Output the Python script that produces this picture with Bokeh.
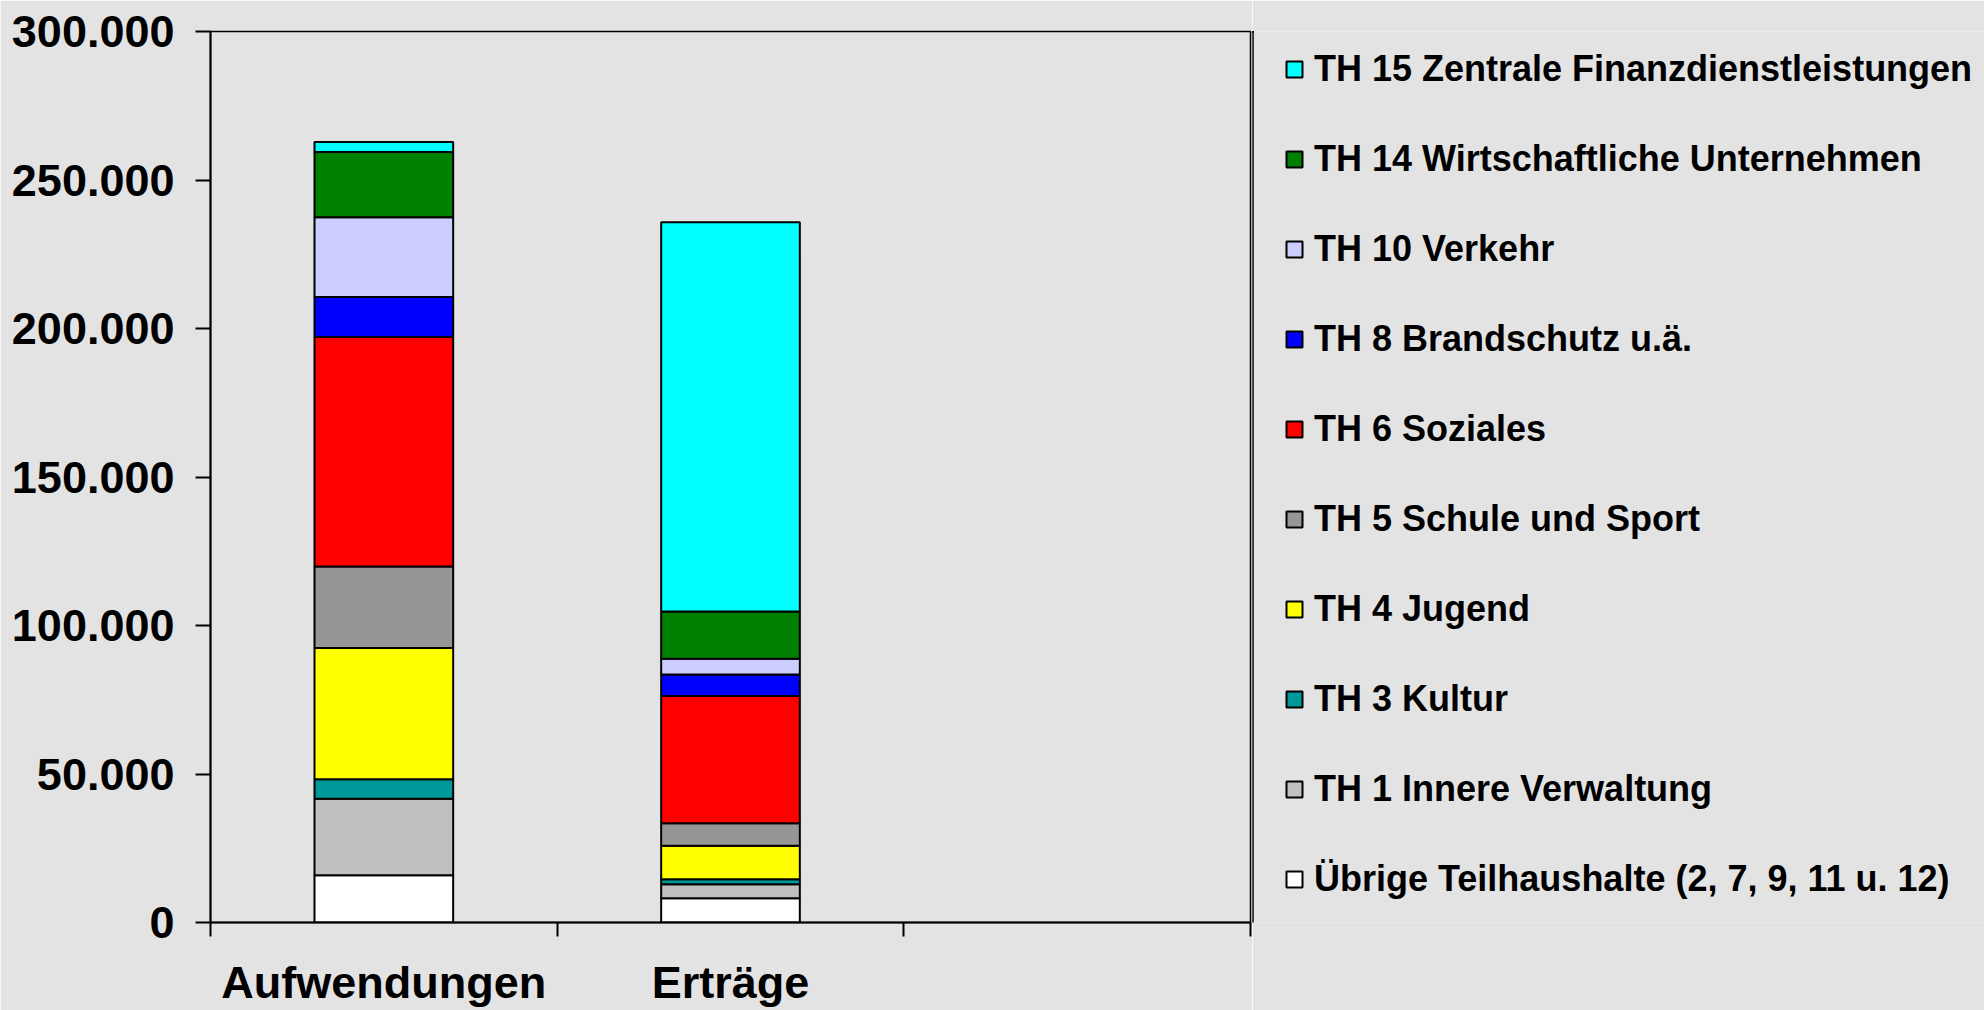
from bokeh.plotting import figure
from bokeh.layouts import row
from bokeh.models import Legend, LegendItem, FixedTicker, ColumnDataSource, Range1d
from bokeh.embed import file_html
from bokeh.resources import INLINE

categories = ["Aufwendungen", "Erträge", ""]
series = [
    "Übrige Teilhaushalte (2, 7, 9, 11 u. 12)",
    "TH 1 Innere Verwaltung",
    "TH 3 Kultur",
    "TH 4 Jugend",
    "TH 5 Schule und Sport",
    "TH 6 Soziales",
    "TH 8 Brandschutz u.ä.",
    "TH 10 Verkehr",
    "TH 14 Wirtschaftliche Unternehmen",
    "TH 15 Zentrale Finanzdienstleistungen",
]
colors = ["#FFFFFF", "#C0C0C0", "#009999", "#FFFF00", "#969696",
          "#FF0000", "#0000FF", "#CCCCFF", "#008000", "#00FFFF"]
aufwendungen = [15900, 25800, 6500, 44200, 27500, 77200, 13500, 26900, 21900, 3400]
ertraege = [8200, 4700, 1700, 11200, 7600, 42900, 7200, 5300, 15900, 131100]
y_ticks = [0, 50000, 100000, 150000, 200000, 250000, 300000]
y_tick_labels = ["0", "50.000", "100.000", "150.000", "200.000", "250.000", "300.000"]

BG = "#E3E3E3"
FONT = "Liberation Sans"

keys = [f"s{i}" for i in range(len(series))]
data = {"x": [i + 0.5 for i in range(2)]}
for k, a, e in zip(keys, aufwendungen, ertraege):
    data[k] = [a, e]
source = ColumnDataSource(data)

# ---- main chart ----
p = figure(width=1252, height=1010,
           x_range=Range1d(0, len(categories)), y_range=Range1d(0, 300000),
           output_backend="svg", toolbar_location=None,
           background_fill_color=BG, border_fill_color=BG,
           min_border_left=210, min_border_right=2,
           min_border_top=31, min_border_bottom=87)

rs = p.vbar_stack(keys, x="x", width=0.4, fill_color=colors,
                  line_color="black", line_width=2, source=source)

p.xgrid.grid_line_color = None
p.ygrid.grid_line_color = None
p.outline_line_color = "black"
p.outline_line_width = 1.5

ya = p.yaxis[0]
ya.ticker = FixedTicker(ticks=y_ticks)
ya.major_label_overrides = dict(zip(y_ticks, y_tick_labels))
ya.minor_tick_line_color = None
ya.major_tick_in = 0
ya.major_tick_out = 15
ya.major_tick_line_width = 2
ya.axis_line_width = 2
ya.major_label_standoff = 21
ya.major_label_text_font = FONT
ya.major_label_text_font_style = "bold"
ya.major_label_text_font_size = "45px"
ya.major_label_text_color = "black"

xa = p.xaxis[0]
centers = [i + 0.5 for i in range(len(categories))]
xa.ticker = FixedTicker(ticks=centers, minor_ticks=list(range(len(categories) + 1)))
xa.major_label_overrides = {c: (lab if lab else " ") for c, lab in zip(centers, categories)}
xa.major_tick_line_color = None
xa.minor_tick_in = 0
xa.minor_tick_out = 14
xa.minor_tick_line_width = 2
xa.minor_tick_line_color = "black"
xa.axis_line_width = 2
xa.major_label_standoff = 20
xa.major_label_text_font = FONT
xa.major_label_text_font_style = "bold"
xa.major_label_text_font_size = "45px"
xa.major_label_text_color = "black"

# ---- legend panel (its own view shows no bars; swatches come from the same data) ----
q = figure(width=732, height=1010, x_range=Range1d(100, 101), y_range=Range1d(0, 1),
           output_backend="svg", toolbar_location=None,
           background_fill_color=BG, border_fill_color=BG,
           min_border=0, outline_line_color=None)
q.axis.visible = False
q.grid.grid_line_color = None
swatches = q.vbar_stack(keys, x="x", width=0.4, fill_color=colors,
                        line_color="black", line_width=2, source=source)

items = [LegendItem(label=s, renderers=[r]) for s, r in zip(series, swatches)][::-1]
legend = Legend(items=items, location=(32, 22),
                glyph_width=20, glyph_height=20, label_standoff=10,
                label_height=40, spacing=48, padding=0, margin=0,
                border_line_color=None, background_fill_alpha=0,
                label_text_font=FONT, label_text_font_style="bold",
                label_text_font_size="36px", label_text_color="black")
q.add_layout(legend)

layout = row(p, q, spacing=0)
open("out.html", "w").write(file_html(layout, INLINE))
